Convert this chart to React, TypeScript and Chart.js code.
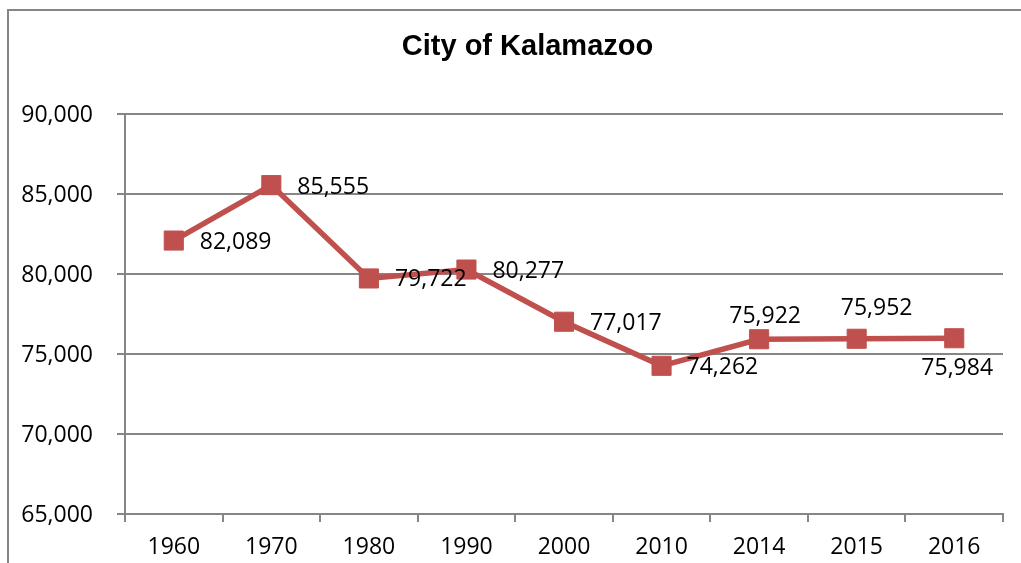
import React, { useEffect, useRef } from "react";
import { Chart, registerables } from "chart.js";

Chart.register(...registerables);

const chartTitle = "City of Kalamazoo";
const years = ["1960", "1970", "1980", "1990", "2000", "2010", "2014", "2015", "2016"];
const population = [82089, 85555, 79722, 80277, 77017, 74262, 75922, 75952, 75984];
const yMin = 65000;
const yMax = 90000;
const yStep = 5000;

// data-label placement relative to each marker
const labelAlign: CanvasTextAlign[] = ["left", "left", "left", "left", "left", "left", "center", "center", "center"];
const labelDx = [26, 26, 26, 26, 26, 25, 6, 20, 3];
const labelDy = [2, 2, 1, 2, 2, 2, -23, -30, 30];

const RED = "#C0504D";
const GRID = "#868686";
const LABEL_FONT = "'Open Sans', sans-serif";
const TITLE_FONT = "bold 29px 'Liberation Sans', Arial, sans-serif";
const fmt = (v: number) => v.toLocaleString("en-US");

export default function App() {
  const ref = useRef<HTMLCanvasElement>(null);

  useEffect(() => {
    const canvas = ref.current;
    if (!canvas) return;

    const framePlugin = {
      id: "frameAndTitle",
      beforeDraw(chart: any) {
        const ctx = chart.ctx;
        ctx.save();
        ctx.strokeStyle = GRID;
        ctx.lineWidth = 2;
        ctx.strokeRect(8, 10, chart.width + 20, chart.height + 20);
        ctx.font = TITLE_FONT;
        ctx.fillStyle = "#000";
        ctx.textAlign = "center";
        ctx.textBaseline = "middle";
        const cx = (8 + chart.width + 26) / 2;
        ctx.fillText(chartTitle, cx, 47);
        ctx.restore();
      },
    };

    const labelPlugin = {
      id: "valueLabels",
      afterDatasetsDraw(chart: any) {
        const ctx = chart.ctx;
        const meta = chart.getDatasetMeta(0);
        ctx.save();
        ctx.font = `23px ${LABEL_FONT}`;
        ctx.fillStyle = "#000";
        ctx.textBaseline = "middle";
        meta.data.forEach((pt: any, i: number) => {
          ctx.textAlign = labelAlign[i];
          ctx.fillText(fmt(population[i]), pt.x + labelDx[i], pt.y + labelDy[i]);
        });
        ctx.restore();
      },
    };

    const chart = new Chart(canvas, {
      type: "line",
      data: {
        labels: years,
        datasets: [
          {
            label: chartTitle,
            data: population,
            borderColor: RED,
            backgroundColor: RED,
            borderWidth: 5.5,
            pointStyle: "rect",
            pointRadius: 13.5,
            pointBorderWidth: 1,
            pointBorderColor: RED,
            pointBackgroundColor: RED,
            tension: 0,
            fill: false,
          },
        ],
      },
      options: {
        responsive: false,
        animation: false,
        layout: { padding: { top: 114, left: 0, right: 18, bottom: 0 } },
        plugins: {
          legend: { display: false },
          tooltip: { enabled: false },
          title: { display: false },
        },
        scales: {
          x: {
            type: "category",
            offset: true,
            grid: {
              display: true,
              drawOnChartArea: false,
              drawTicks: true,
              tickLength: 8,
              color: GRID,
              lineWidth: 2,
              offset: true,
            },
            border: { display: true, color: GRID, width: 2 },
            ticks: {
              color: "#000",
              font: { family: LABEL_FONT, size: 23 },
              padding: 12,
              maxRotation: 0,
              autoSkip: false,
            },
            afterFit(s: any) {
              s.height = 49;
            },
          },
          y: {
            min: yMin,
            max: yMax,
            grid: { color: GRID, lineWidth: 2, tickLength: 8, drawTicks: true },
            border: { display: true, color: GRID, width: 2 },
            ticks: {
              stepSize: yStep,
              color: "#000",
              font: { family: LABEL_FONT, size: 23 },
              padding: 24,
              labelOffset: 1.5,
              callback: (v: any) => fmt(Number(v)),
            },
            afterFit(s: any) {
              s.width = 125;
            },
          },
        },
      },
      plugins: [framePlugin, labelPlugin],
    });

    return () => chart.destroy();
  }, []);

  return (
    <div style={{ position: "absolute", left: 0, top: 0, width: 1021, height: 563, background: "#fff" }}>
      <canvas ref={ref} width={1021} height={563} style={{ display: "block" }} />
    </div>
  );
}
